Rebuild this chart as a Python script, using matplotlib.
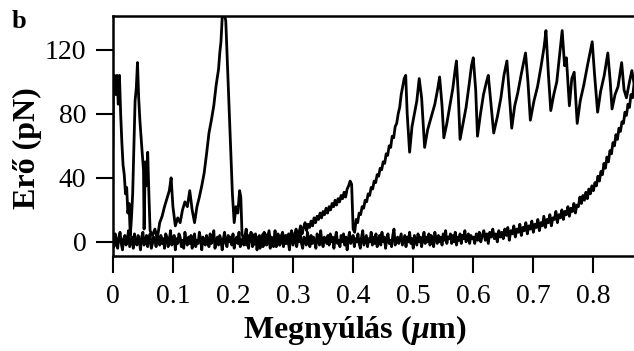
import numpy as np
import matplotlib
matplotlib.use('Agg')
import matplotlib.pyplot as plt

plt.rcParams['font.family'] = 'Liberation Serif'
plt.rcParams['mathtext.fontset'] = 'custom'
plt.rcParams['mathtext.rm'] = 'Liberation Serif:bold'
plt.rcParams['mathtext.it'] = 'Liberation Serif:italic:bold'
plt.rcParams['mathtext.bf'] = 'Liberation Serif:bold'

# Curva 1: picos de adesao iniciais (x em um, y em pN)
x_pico = [0.000, 0.001, 0.003, 0.005, 0.007, 0.009, 0.011, 0.013, 0.015, 0.017,
          0.019, 0.021, 0.023, 0.025, 0.027, 0.029, 0.031, 0.033, 0.035, 0.037,
          0.039, 0.041, 0.043, 0.045, 0.048, 0.051, 0.052, 0.054, 0.056, 0.058,
          0.060, 0.062, 0.066, 0.070, 0.074, 0.078, 0.082, 0.086, 0.090, 0.094,
          0.097, 0.100, 0.104, 0.108, 0.112, 0.116, 0.120, 0.124, 0.128, 0.132,
          0.136, 0.140, 0.144, 0.148, 0.152, 0.156, 0.160, 0.164, 0.168, 0.172,
          0.176, 0.178, 0.180, 0.182, 0.186, 0.188, 0.199, 0.202, 0.205, 0.208,
          0.211, 0.213, 0.215, 0.219]
y_pico = [60, 100, 104, 92, 104, 86, 104, 80, 62, 48,
          42, 30, 34, 18, 24, 4, 15, 30, 60, 88,
          96, 112, 90, 76, 60, 45, 8, 50, 35, 56,
          30, 7, 4, 8, 2, 12, 16, 22, 27, 32,
          40, 22, 10, 15, 12, 20, 25, 22, 32, 20,
          12, 22, 28, 35, 43, 55, 68, 76, 85, 98,
          108, 118, 125, 140, 142, 138, 30, 12, 22, 18,
          32, 28, 5, 0]

# Curva 1: linha de base e subida (passo 0.0025 a partir de 0.2225)
y_base1 = [-2, 4, 0, 6, -3, 2, 5, -1, 3, -4, 1, 5, -2, 4, 0, 7, -1, 2, -3, 4,
           1, 5, -2, 3, 6, 0, 4, -1, 5, 2, 7, 1, 4, 8, 3, 6, 10, 5, 9, 12,
           7, 11, 9, 13, 10, 15, 12, 16, 14, 18, 15, 19, 17, 21, 18, 22, 20, 24, 22, 26,
           23, 27, 25, 29, 27, 31, 28, 33, 35, 38, 36, 8,
           6, 14, 12, 18, 17, 22, 21, 26, 25, 30, 29, 34, 33, 38, 37, 42, 41, 46, 45, 50,
           49, 55, 54, 60, 59, 66, 65, 72, 74, 80, 84, 92, 97, 102, 104]

# Curva 1: dente de serra (desdobramento dos dominios)
x_serra = [0.490, 0.494, 0.498, 0.502, 0.506, 0.510, 0.514, 0.519, 0.524, 0.530,
           0.536, 0.541, 0.544, 0.548, 0.551, 0.556, 0.561, 0.566, 0.570, 0.572,
           0.575, 0.578, 0.583, 0.588, 0.593, 0.597, 0.600, 0.604, 0.607, 0.612,
           0.617, 0.622, 0.625, 0.629, 0.634, 0.640, 0.646, 0.651, 0.656, 0.660,
           0.664, 0.669, 0.674, 0.680, 0.687, 0.691, 0.695, 0.701, 0.707, 0.713,
           0.718, 0.721, 0.725, 0.729, 0.734, 0.739, 0.744, 0.748, 0.752, 0.755,
           0.760, 0.764, 0.768, 0.773, 0.778, 0.784, 0.790, 0.798, 0.802, 0.807,
           0.812, 0.818, 0.824, 0.828, 0.831, 0.836, 0.841, 0.847, 0.851, 0.855,
           0.860, 0.864, 0.868, 0.874]
y_serra = [80, 56, 72, 80, 88, 102, 90, 59, 70, 78,
           86, 96, 103, 85, 65, 74, 85, 96, 108, 113,
           92, 64, 74, 84, 98, 110, 115, 95, 66, 80,
           92, 100, 104, 88, 68, 78, 90, 104, 113, 92,
           71, 85, 93, 105, 118, 100, 76, 88, 97, 110,
           122, 132, 105, 82, 92, 100, 118, 132, 110, 115,
           85, 102, 106, 74, 88, 98, 110, 125, 104, 81,
           94, 104, 118, 100, 83, 92, 97, 112, 95, 90,
           100, 107, 98, 115]

# Curva 2: linha de base (passo 0.002 de 0 a 0.598)
y_base2 = [2, -3, 5, 0, -4, 3, 6, -1, -5, 2, 4, -2, 1, 7, -3, 0, 3, -4, 5, -1,
           -2, 4, 1, -5, 3, 6, -2, 0, 4, -3, 2, 5, -4, -1, 3, 1, -3, 6, 0, -2,
           4, -1, 2, -4, 5, 3, -3, 1, 7, -2, 0, 4, -5, 2, -1, 5, 3, -3, 1, -4,
           6, 0, -2, 3, -1, 4, -4, 2, 5, -3, 1, -1, 6, 2, -5, 3, 0, -2, 4, 1,
           -3, 5, -1, 2, 7, -4, 0, 3, -2, 4, 1, -5, 2, 6, -1, -3, 4, 0, 3, -2,
           5, -4, 1, 3, -1, 6, -3, 0, 2, -2, 4, 8, -1, -4, 3, 1, 5, -2, 0, 3,
           -5, 2, 4, -1, 3, -3, 6, 0, -2, 5, 1, -4, 3, 2, -1, 7, -3, 0, 4, -2,
           1, 5, -3, 2, -1, 4, 0, -5, 3, 6, -2, 1, 4, -3, 2, 0, 5, -1, -4, 3,
           2, -2, 6, 1, -3, 4, -1, 3, 0, -4, 5, 2, -2, 7, 0, -3, 3, 1, -1, 4,
           -2, 5, 0, 3, -4, 2, 6, -1, 1, -3, 4, 0, 5, -2, 3, -5, 2, 6, -1, 1,
           4, -3, 2, 0, 5, -1, -4, 3, 7, -2, 1, 4, -3, 2, 0, 6, -2, 3, -1, 5,
           -3, 1, 4, -2, 6, 0, 3, -4, 2, 5, -1, 1, -3, 4, 8, -2, 0, 3, -1, 2,
           5, -2, 1, 4, -3, 3, 0, 6, -1, 2, -4, 4, 1, -2, 5, 0, 3, -3, 2, 6,
           -1, 3, 0, 5, -2, 4, 1, -3, 6, 2, -1, 4, 0, 3, -2, 5, 1, 7, -1, 3,
           2, 5, -1, 4, 0, 6, -2, 3, 1, 5, -1, 4, 2, 7, 0, 3, 5, -1, 4, 2]

# Curva 2: subida final (passo 0.0025 de 0.6 a 0.875)
y_sub2 = [3, -1, 5, 1, 6, 0, 4, 7, 1, 5, -1, 6, 3, 8, 2, 5, 0, 7, 3, 6,
          2, 8, 4, 9, 1, 7, 5, 10, 3, 8, 6, 11, 4, 9, 7, 12, 5, 10, 8, 13,
          6, 11, 9, 14, 7, 12, 10, 16, 9, 14, 12, 17, 10, 15, 14, 19, 12, 17, 15, 20,
          14, 19, 17, 22, 16, 21, 19, 24, 18, 23, 22, 28, 24, 29, 26, 31, 27, 33, 30, 35,
          32, 37, 35, 41, 38, 44, 42, 49, 46, 53, 50, 57, 55, 62, 60, 67, 64, 71, 69, 75,
          74, 81, 79, 86, 84, 92, 90, 98, 96, 105, 112]

x_base1 = 0.2225 + 0.0025 * np.arange(len(y_base1))
x1 = np.concatenate([x_pico, x_base1, x_serra])
y1 = np.concatenate([y_pico, y_base1, y_serra])

x_base2 = 0.002 * np.arange(len(y_base2))
x_sub2 = 0.6 + 0.0025 * np.arange(len(y_sub2))
x2 = np.concatenate([x_base2, x_sub2])
y2 = np.concatenate([y_base2, y_sub2])

fig = plt.figure(figsize=(6.34, 3.51), dpi=100)
ax = fig.add_axes([0.178, 0.271, 0.83, 0.683])

ax.plot(x2, y2, color='black', lw=2.0)
ax.plot(x1, y1, color='black', lw=2.0)

ax.set_xlim(0, 0.876)
ax.set_ylim(-8.75, 141)
ax.set_xticks(np.arange(0, 0.81, 0.1))
ax.set_xticklabels(['0', '0.1', '0.2', '0.3', '0.4', '0.5', '0.6', '0.7', '0.8'])
ax.set_yticks([0, 40, 80, 120])

for s in ['left', 'top', 'bottom']:
    ax.spines[s].set_linewidth(1.8)
ax.spines['right'].set_visible(False)
ax.tick_params(direction='out', length=12, width=1.5, labelsize=20)
ax.tick_params(axis='x', pad=8.5)
ax.tick_params(axis='y', pad=7)

ax.set_xlabel(r'Megnyúlás ($\mu$m)', fontsize=23, fontweight='bold')
ax.set_ylabel('Erő (pN)', fontsize=23, fontweight='bold')
ax.xaxis.set_label_coords(0.46, -0.24)
ax.yaxis.set_label_coords(-0.135, 0.45)
fig.text(0.018, 0.92, 'b', fontsize=19, fontweight='bold')

fig.savefig('out.png', dpi=100)
